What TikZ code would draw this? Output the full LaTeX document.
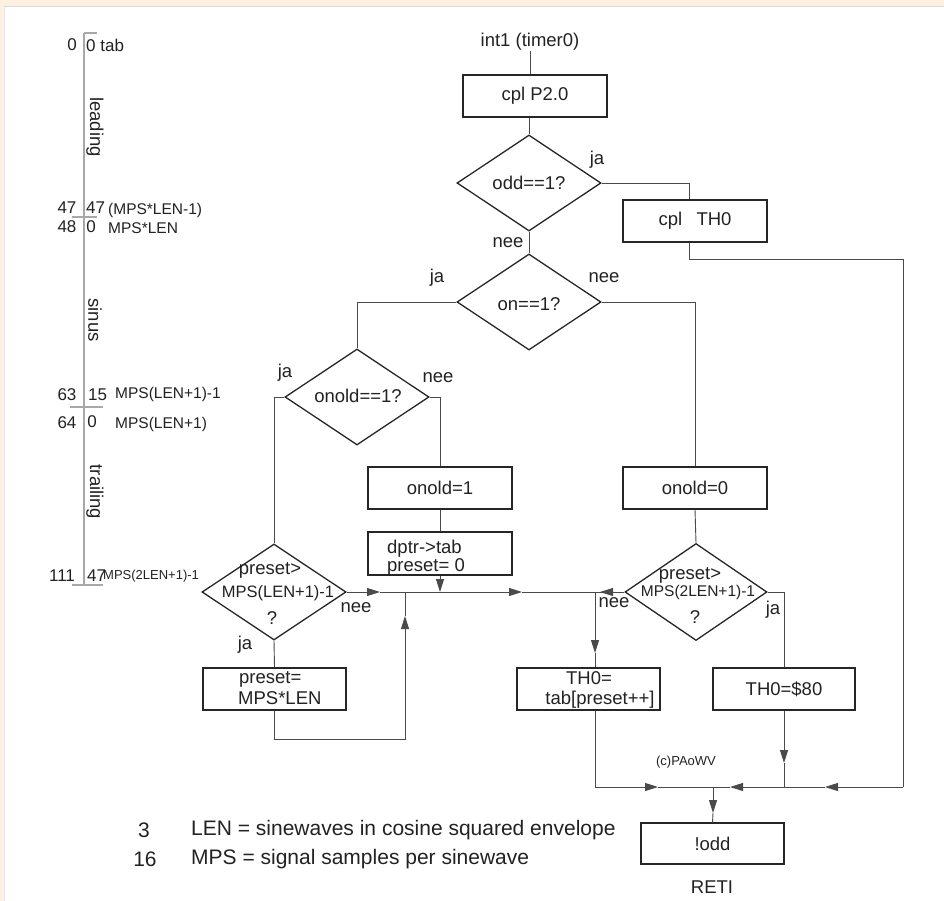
\documentclass[tikz,border=0pt]{standalone}
\usepackage{fontspec}
\setmainfont{Liberation Sans}
\usetikzlibrary{shapes.geometric,arrows.meta,calc}
\definecolor{beige}{HTML}{FCF0E0}
\definecolor{ln}{HTML}{4A4A4A}
\definecolor{bx}{HTML}{262626}
\definecolor{scl}{HTML}{A8A8A8}
\definecolor{tx}{HTML}{222222}
\newcommand\mainfs{\fontsize{18.5}{21}\selectfont}
\newcommand\numfs{\fontsize{17}{20}\selectfont}
\newcommand\smfs{\fontsize{15.5}{18}\selectfont}
\newcommand\tinyfs{\fontsize{13}{15}\selectfont}
\newcommand\legfs{\fontsize{21}{24}\selectfont}
\begin{document}
\begin{tikzpicture}[x=1pt,y=-1pt,
  every node/.style={text=tx},
  box/.style={draw=bx,line width=1.3pt,minimum width=144pt,minimum height=42pt,inner sep=0pt,font=\mainfs},
  dia/.style={draw=bx,line width=1.3pt,diamond,minimum width=144pt,minimum height=96pt,inner sep=0pt},
  txt/.style={inner sep=0pt,font=\mainfs},
  num/.style={inner sep=0pt,font=\numfs},
  sm/.style={inner sep=0pt,font=\smfs},
  tn/.style={inner sep=0pt,font=\tinyfs},
  leg/.style={inner sep=0pt,font=\legfs},
  conn/.style={draw=ln,line width=0.9pt},
  arr/.style={draw=ln,line width=0.9pt,-{Triangle[length=13pt,width=8pt]}},
  tick/.style={draw=scl,line width=1.2pt}
]
\useasboundingbox (0,0) rectangle (944,901);
\fill[beige] (0,0) rectangle (944,901);
\fill[white] (4,7) rectangle (944,901);
\draw[black!15,line width=1.5pt] (4,6.5) -- (944,6.5);
\draw[black!8,line width=1pt] (4.5,7) -- (4.5,901);

% ---------- left scale ----------
\coordinate (st) at (84,33);
\coordinate (sb) at (84,585);
\draw[scl,line width=2pt] (st) -- (sb);
\draw[tick] (st) -- (97,33);
\draw[tick] (72,217) -- (97,217);
\draw[tick] (70,407) -- (103,407);
\draw[tick] (72,585) -- (103,585);
\node[num] (s0a) at (72,45) {0};
\node[num,anchor=west] (s0b) at (86,45) {0 tab};
\node[txt,rotate=-90] (lead) at (95,127) {leading};
\node[num] (s47a) at (67,208) {47};
\node[num,anchor=west] (s47b) at (86,208) {47};
\node[sm,anchor=west] (s47c) at (108,210) {(MPS*LEN-1)};
\node[num] (s48a) at (67,227) {48};
\node[num] (s48b) at (91,227) {0};
\node[sm,anchor=west] (s48c) at (108,228) {MPS*LEN};
\node[txt,rotate=-90] (sinus) at (95,320) {sinus};
\node[num] (s63a) at (67,395) {63};
\node[num,anchor=west] (s63b) at (88,395) {15};
\node[sm,anchor=west] (s63c) at (115,394) {MPS(LEN+1)-1};
\node[num] (s64a) at (67,423) {64};
\node[num] (s64b) at (92,422) {0};
\node[sm,anchor=west] (s64c) at (115,424) {MPS(LEN+1)};
\node[txt,rotate=-90] (trail) at (95,492) {trailing};
\node[num] (s111a) at (62,576) {111};
\node[num,anchor=west] (s111b) at (87,576) {47};
\node[tn,anchor=west] (s111c) at (103,576) {MPS(2LEN+1)-1};

% ---------- flowchart nodes ----------
\node[txt] (int) at (530,42) {int1 (timer0)};
\node[box] (cplP) at (535,96) {cpl P2.0};
\node[dia] (odd) at (529,183) {};
\node[txt] (oddt) at (529,183) {odd==1?};
\node[txt] (ja1) at (597,160) {ja};
\node[box] (cplT) at (695,221) {cpl\hspace{0.5em} TH0};
\node[txt] (nee1) at (508,243) {nee};
\node[dia] (on) at (529,302) {};
\node[txt] (ont) at (529,304) {on==1?};
\node[txt] (ja2) at (437,278) {ja};
\node[txt] (nee2) at (604,278) {nee};
\node[dia] (onold) at (357,397) {};
\node[txt] (onoldt) at (358,396) {onold==1?};
\node[txt] (ja3) at (285,373) {ja};
\node[txt] (nee3) at (438,378) {nee};
\node[box] (on1) at (440,488) {onold=1};
\node[box,minimum height=43pt] (dptr) at (440,553.5) {};
\node[txt,anchor=west] (dptr1) at (387,549) {dptr->tab};
\node[txt,anchor=west] (dptr2) at (387,567) {preset= 0};
\node[box] (on0) at (695,488) {onold=0};
\node[dia] (pre1) at (274,592) {};
\node[txt] (pre1a) at (270,570) {preset>};
\node[sm,font=\fontsize{16.5}{19}\selectfont] (pre1b) at (278,593) {MPS(LEN+1)-1};
\node[txt] (pre1c) at (272,618) {?};
\node[txt] (nee4) at (356,608) {nee};
\node[txt] (ja4) at (245,645) {ja};
\node[box,minimum width=143pt] (pmps) at (274.5,689) {};
\node[txt,anchor=west] (pmps1) at (239,679) {preset=};
\node[txt,anchor=west] (pmps2) at (238,698) {MPS*LEN};
\node[dia,minimum width=142pt,minimum height=97pt] (pre2) at (696,592) {};
\node[txt] (pre2a) at (690,575) {preset>};
\node[sm] (pre2b) at (698,592) {MPS(2LEN+1)-1};
\node[txt] (pre2c) at (695,617) {?};
\node[txt] (nee5) at (614,603) {nee};
\node[txt] (ja5) at (773,610) {ja};
\node[box,minimum width=143pt] (th0) at (588.5,689) {};
\node[txt] (th0a) at (589,678) {TH0=};
\node[txt] (th0b) at (600,700) {tab[preset++]};
\node[box,minimum width=142pt] (th80) at (784,689) {TH0=\$80};
\node[box,minimum width=143pt,minimum height=41pt] (nodd) at (712.5,843.5) {!odd};
\node[txt] (reti) at (712,887) {RETI};
\node[tn] (copy) at (686,762) {(c)PAoWV};

% ---------- legend ----------
\node[leg] (l3) at (144,830) {3};
\node[leg,anchor=west] (l3t) at (191,830) {LEN = sinewaves in cosine squared envelope};
\node[leg] (l16) at (145,859) {16};
\node[leg,anchor=west] (l16t) at (191,859) {MPS = signal samples per sinewave};

% ---------- connectors ----------
\coordinate (rt) at (903,259);
\coordinate (rc) at (903,787);
\coordinate (a1) at (380,592);
\coordinate (a2) at (522,592);
\coordinate (a3) at (600,592);
\coordinate (j1) at (595,592);
\coordinate (a4) at (595,653);
\coordinate (jl) at (405,592);
\coordinate (lp) at (405,739);
\coordinate (upt) at (405,616);
\coordinate (m) at (713,787);
\coordinate (b1) at (658,787);
\coordinate (b2) at (784,763);
\coordinate (b3) at (784,787);
\coordinate (b4) at (730,787);
\coordinate (b5) at (825,787);
\coordinate (b6) at (713,813);

\draw[conn] (int.south) -- (int.south |- cplP.north);
\draw[conn] (odd.north |- cplP.south) -- (odd.north);
\draw[conn] (odd.east) -| ([xshift=-6pt]cplT.north);
\draw[conn] ([xshift=-6pt]cplT.south) |- (rt) -- (rc);
\draw[conn] (odd.south) -- (on.north);
\draw[conn] (on.west) -| (onold.north);
\draw[conn] (on.east) -| (on0.north);
\draw[conn] (onold.west) -| (pre1.north);
\draw[conn] (onold.east) -| (on1.north);
\draw[conn] (on1.south) -- (dptr.north);
\draw[arr] (dptr.south) -- (dptr.south |- pre1.east);
\draw[arr] (pre1.east) -- (a1);
\draw[arr] (a1) -- (a2);
\draw[conn] (a2) -- (pre2.west);
\draw[arr] (pre2.west) -- (a3);
\draw[arr] (j1) -- (a4);
\draw[conn] (a4) -- (j1 |- th0.north);
\draw[conn] (pre1.south) -- (pmps.north);
\draw[arr] (pmps.south) |- (lp) -- (upt);
\draw[conn] (upt) -- (jl);
\draw[conn] (on0.south) -- (pre2.north);
\draw[conn] (pre2.east) -| (th80.north);
\draw[arr] ([xshift=6.5pt]th0.south) |- (b1);
\draw[conn] (b1) -- (m);
\draw[arr] (th80.south) -- (b2);
\draw[conn] (b2) -- (b3);
\draw[arr] (b3) -- (b4);
\draw[conn] (b4) -- (m);
\draw[arr] (rc) -- (b5);
\draw[conn] (b5) -- (b3);
\draw[arr] (m) -- (b6);
\draw[conn] (b6) -- (nodd.north);
\end{tikzpicture}
\end{document}
